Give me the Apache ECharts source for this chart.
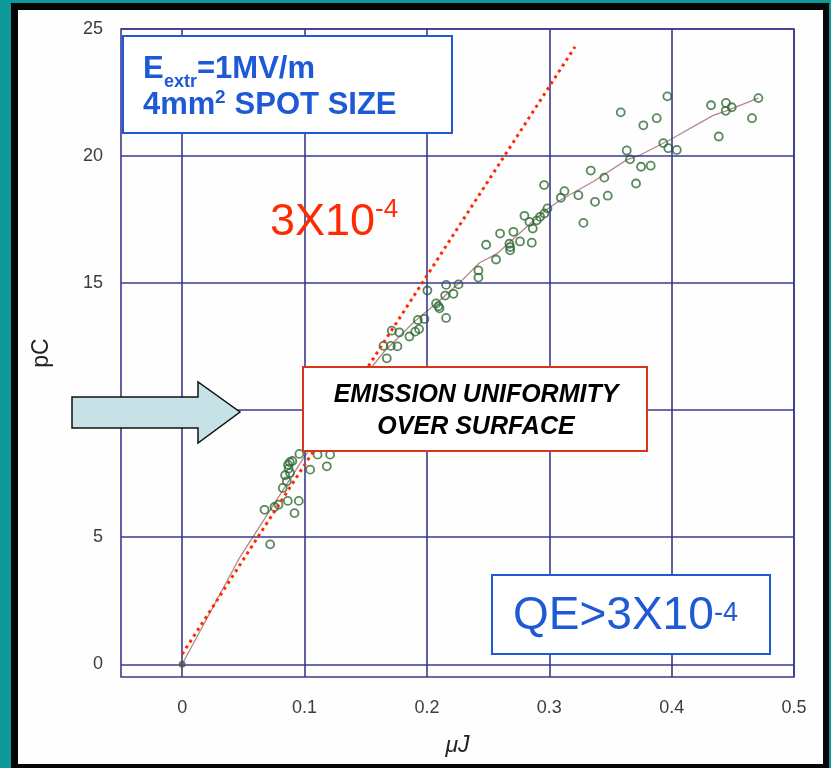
<!DOCTYPE html>
<html>
<head>
<meta charset="utf-8">
<script src="https://cdn.jsdelivr.net/npm/echarts@6/dist/echarts.min.js"></script>
<style>
  html, body { margin: 0; padding: 0; width: 831px; height: 768px; overflow: hidden; background: #0e9a9a; }
  #frame { position: absolute; left: 11px; top: 3px; width: 818px; height: 765px; background: #060606; }
  #paper { position: absolute; left: 18px; top: 10px; width: 805px; height: 754px; background: #fefefe; }
  #chart { position: absolute; left: 0; top: 0; width: 831px; height: 768px; }
</style>
</head>
<body>
<div id="frame"></div>
<div id="paper"></div>
<div id="chart"></div>
<script>
// Laser pulse energy (µJ) vs extracted charge (pC), measured shots
const energyUJ = [
  0.0719, 0.0673, 0.0754, 0.0787, 0.0863, 0.0918, 0.0953, 0.0822, 0.0855, 0.0841,
  0.0882, 0.0865, 0.0880, 0.0900, 0.0870, 0.0958, 0.1046, 0.1106, 0.1182, 0.1209,
  0.1250, 0.1300, 0.1380, 0.1450, 0.1520, 0.1580,
  0.1672, 0.1645, 0.1705, 0.1759, 0.1713, 0.1775, 0.1857, 0.1904, 0.1936, 0.1926,
  0.1980, 0.2004, 0.2094, 0.2075, 0.2103, 0.2157, 0.2149, 0.2217, 0.2157, 0.2258,
  0.2421, 0.2421, 0.2565, 0.2484, 0.2598, 0.2707, 0.2674, 0.2680, 0.2680, 0.2761,
  0.2857, 0.2865, 0.2898, 0.2797, 0.2838, 0.2925, 0.2960, 0.2985, 0.2958, 0.3094,
  0.3124, 0.3238, 0.3374, 0.3478, 0.3339, 0.3450, 0.3279, 0.3584, 0.3769, 0.3878,
  0.3965, 0.3709, 0.3750, 0.3829, 0.3633, 0.3660, 0.3932, 0.3973, 0.4042, 0.4322,
  0.4444, 0.4491, 0.4442, 0.4709, 0.4657, 0.4385
];
const chargePC = [
  4.72, 6.08, 6.19, 6.28, 6.43, 5.95, 6.43, 6.94, 7.20, 7.44,
  7.53, 7.85, 7.95, 8.00, 7.70, 8.28, 7.66, 8.25, 7.79, 8.25,
  8.90, 9.40, 10.00, 10.50, 11.00, 11.40,
  12.04, 12.53, 12.53, 12.51, 13.13, 13.06, 12.90, 13.09, 13.19, 13.55,
  13.59, 14.71, 14.09, 14.20, 14.01, 13.63, 14.51, 14.58, 14.93, 14.95,
  15.50, 15.22, 15.93, 16.51, 16.95, 17.02, 16.55, 16.29, 16.42, 16.64,
  16.59, 17.15, 17.47, 17.65, 17.41, 17.61, 17.74, 17.94, 18.86, 18.36,
  18.62, 18.46, 18.20, 18.44, 19.43, 19.15, 17.37, 21.72, 21.21, 21.49,
  22.35, 18.92, 19.58, 19.62, 20.22, 19.87, 20.51, 20.31, 20.24, 22.00,
  22.09, 21.92, 21.78, 22.28, 21.49, 20.77
];

// Running average through the shots
const trendUJ = [0, 0.047, 0.099, 0.13, 0.165, 0.19, 0.21, 0.2275, 0.243, 0.257,
  0.2843, 0.298, 0.3088, 0.336, 0.3633, 0.3742, 0.3987, 0.434, 0.4436, 0.4709];
const trendPC = [0, 4.2, 8.1, 10.2, 12.3, 13.5, 14.3, 15.05, 15.8, 16.15,
  17.34, 17.9, 18.26, 19.0, 19.85, 20.04, 20.64, 21.6, 21.76, 22.28];

// Constant quantum efficiency reference line (QE = 3x10^-4)
const qeLineUJ = [0, 0.321];
const qeLinePC = [0.4, 24.3];

// Origin reference point
const originUJ = [0];
const originPC = [0];

// Labelled ticks
const xTicks = [0, 0.1, 0.2, 0.3, 0.4, 0.5];
const yTicks = [0, 5, 10, 15, 20, 25];

const zip = (a, b) => a.map((v, i) => [v, b[i]]);
const isTick = (v, list) => list.some(t => Math.abs(t - v) < 1e-6);

const GRID = '#3a3a8c';
const BLUE = '#1f5ad6';
const RED = '#ff2a00';
const SANS = "'Liberation Sans', Arial, sans-serif";
const NARROW = "'Liberation Sans Narrow', 'Liberation Sans', Arial, sans-serif";

const chart = echarts.init(document.getElementById('chart'), null, { renderer: 'canvas' });

// Text placed by its baseline: with middle alignment the baseline sits
// about 0.3465 em below the anchor for Liberation Sans metrics.
function txt(text, x, baseline, size, weight, fill, align) {
  return {
    type: 'text', z: 100, silent: true,
    style: {
      text: text, x: x, y: baseline - 0.3465 * size,
      font: weight + ' ' + size + 'px ' + SANS, fill: fill,
      align: align || 'left', verticalAlign: 'middle'
    }
  };
}

const option = {
  animation: false,
  backgroundColor: 'transparent',
  grid: { left: 121, right: 37, top: 29, bottom: 91, show: true,
          borderColor: GRID, borderWidth: 1.6, backgroundColor: 'transparent' },
  xAxis: {
    type: 'value', min: -0.05, max: 0.5, interval: 0.05,
    axisLine: { show: false }, axisTick: { show: false }, splitLine: { show: false },
    axisLabel: {
      margin: 22, color: '#3c3c3c', fontSize: 18, fontFamily: NARROW,
      formatter: v => isTick(v, xTicks) ? (Math.abs(v) < 1e-9 ? '0' : v.toFixed(1)) : ''
    },
    name: 'μJ', nameLocation: 'middle', nameGap: 57,
    nameTextStyle: { fontSize: 23, fontStyle: 'italic', color: '#222', fontFamily: SANS }
  },
  yAxis: {
    type: 'value', min: -0.5, max: 25, interval: 0.5,
    axisLine: { show: false }, axisTick: { show: false }, splitLine: { show: false },
    axisLabel: {
      margin: 18, color: '#3c3c3c', fontSize: 18, fontFamily: NARROW,
      formatter: v => isTick(v, yTicks) ? String(Math.round(v)) : ''
    },
    name: 'pC', nameLocation: 'middle', nameGap: 68, nameRotate: 90,
    nameTextStyle: { fontSize: 23, color: '#222', fontFamily: SANS }
  },
  series: [
    {
      name: 'grid', type: 'line', data: [], z: 1, silent: true,
      markLine: {
        silent: true, symbol: ['none', 'none'], label: { show: false },
        lineStyle: { color: GRID, width: 1.6, type: 'solid' },
        emphasis: { disabled: true },
        data: xTicks.map(v => ({ xAxis: v })).concat(yTicks.map(v => ({ yAxis: v })))
      }
    },
    {
      name: 'trend', type: 'line', z: 3, silent: true,
      data: zip(trendUJ, trendPC), symbol: 'none',
      lineStyle: { color: '#b48888', width: 1.3 }
    },
    {
      name: 'shots', type: 'scatter', z: 4, silent: true,
      data: zip(energyUJ, chargePC), symbol: 'circle', symbolSize: 8,
      itemStyle: { color: 'rgba(255,255,255,0)', borderColor: '#2f6a36', borderWidth: 1.8 }
    },
    {
      name: 'QE 3e-4', type: 'line', z: 5, silent: true,
      data: zip(qeLineUJ, qeLinePC), symbol: 'none',
      lineStyle: { color: RED, width: 3, type: [3, 4], cap: 'butt' }
    },
    {
      name: 'origin', type: 'scatter', z: 6, silent: true,
      data: zip(originUJ, originPC), symbol: 'circle', symbolSize: 7,
      itemStyle: { color: '#555' }
    }
  ],
  graphic: [
    // arrow pointing at the uniformity note
    { type: 'polygon', z: 100, silent: true,
      shape: { points: [[72, 397], [198, 397], [198, 382], [240, 412], [198, 443], [198, 428], [72, 428]] },
      style: { fill: '#c6e2e6', stroke: '#111', lineWidth: 1.5 } },

    // extraction field / spot size box
    { type: 'rect', z: 99, silent: true,
      shape: { x: 123, y: 36, width: 329, height: 97 },
      style: { fill: '#fff', stroke: BLUE, lineWidth: 2 } },
    txt('E', 143, 80, 31, 'bold', BLUE),
    txt('extr', 164, 88, 18, 'bold', BLUE),
    txt('=1MV/m', 197, 80, 31, 'bold', BLUE),
    txt('4mm', 143, 116, 31, 'bold', BLUE),
    txt('2', 215, 104, 19, 'bold', BLUE),
    txt(' SPOT SIZE', 226, 116, 31, 'bold', BLUE),

    // slope label of the dotted line
    txt('3X10', 270, 238, 45, 'normal', RED),
    txt('-4', 375, 219, 26, 'normal', RED),

    // emission uniformity note
    { type: 'rect', z: 99, silent: true,
      shape: { x: 303, y: 367, width: 344, height: 84 },
      style: { fill: '#fff', stroke: '#d8341c', lineWidth: 2 } },
    txt('EMISSION UNIFORMITY', 476, 404, 25, 'italic bold', '#000', 'center'),
    txt('OVER SURFACE', 476, 436, 25, 'italic bold', '#000', 'center'),

    // quantum efficiency box
    { type: 'rect', z: 99, silent: true,
      shape: { x: 492, y: 575, width: 278, height: 79 },
      style: { fill: '#fff', stroke: BLUE, lineWidth: 2 } },
    txt('QE>3X10', 513, 632, 46, 'normal', BLUE),
    txt('-4', 714, 623, 27, 'normal', BLUE)
  ]
};

chart.setOption(option);
</script>
</body>
</html>
